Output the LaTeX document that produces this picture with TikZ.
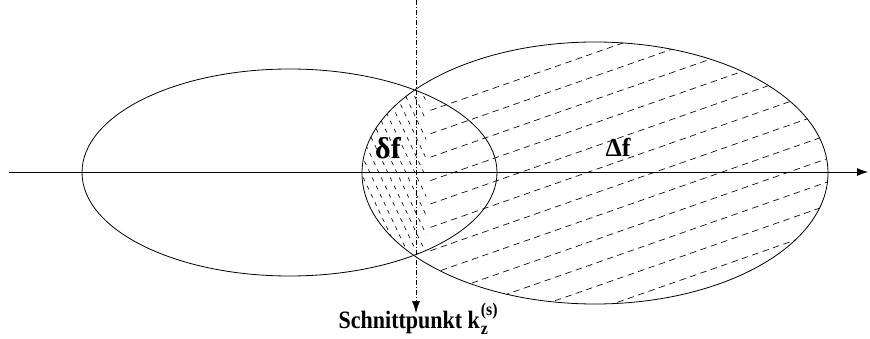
\documentclass[tikz,border=0pt]{standalone}
\usepackage{fontspec}
\usetikzlibrary{arrows.meta}
\newfontfamily\lblfont{Liberation Serif}[FakeStretch=0.88]
\newfontfamily\grkfont{Liberation Serif}
\begin{document}
\begin{tikzpicture}[x=1pt,y=-1pt,line width=0.8pt,
    steephatch/.style={line width=0.65pt,dash pattern=on 4pt off 5pt},
    flathatch/.style={line width=0.65pt,dash pattern=on 6.5pt off 4.5pt},
    cutline/.style={line width=0.6pt,dash pattern=on 5pt off 2pt on 1pt off 2pt,-{Latex[length=12pt,width=8pt]}},
    axis/.style={-{Latex[length=11pt,width=8pt]}}]
  \useasboundingbox (0,0) rectangle (870,339);
  % overlap, left of the cut
  \begin{scope}
    \clip (289.5,172.5) ellipse [x radius=207.5pt,y radius=103.5pt];
    \clip (595,173) ellipse [x radius=233pt,y radius=131pt];
    \clip (350,60) rectangle (426,300);
    \foreach \x in {272,281,...,433} \draw[steephatch] (\x,80) -- ++(90,190);
  \end{scope}
  % right ellipse, right of the cut
  \begin{scope}
    \clip (595,173) ellipse [x radius=233pt,y radius=131pt];
    \clip (430,0) rectangle (870,339);
    \foreach \k in {0,...,11} \draw[flathatch] (420,{114+23.4*\k}) -- ++(420,-147);
  \end{scope}
  \draw (289.5,172.5) ellipse [x radius=207.5pt,y radius=103.5pt];
  \draw (595,173) ellipse [x radius=233pt,y radius=131pt];
  \coordinate (xl) at (9,172);
  \coordinate (xr) at (868,172);
  \draw[axis] (xl) -- (xr);
  \node[inner sep=0pt] (df) at (388,148) {\grkfont\bfseries\fontsize{30}{30}\selectfont δf};
  \node[inner sep=0pt] (Df) at (618,147) {\grkfont\bfseries\fontsize{26}{26}\selectfont Δf};
  \node[inner sep=0pt,anchor=base] (sp) at (416,328)
    {\lblfont\bfseries\fontsize{25}{30}\selectfont Schnittpunkt k\kern1pt\rlap{\raisebox{13pt}{\fontsize{18}{18}\selectfont(s)}}\raisebox{-6pt}{\fontsize{18}{18}\selectfont z}\hphantom{\fontsize{18}{18}\selectfont)}};
  \coordinate (cut) at (416,0);
  \coordinate (cutend) at (416,313);
  \draw[cutline] (cut) -- (cutend);
\end{tikzpicture}
\end{document}
